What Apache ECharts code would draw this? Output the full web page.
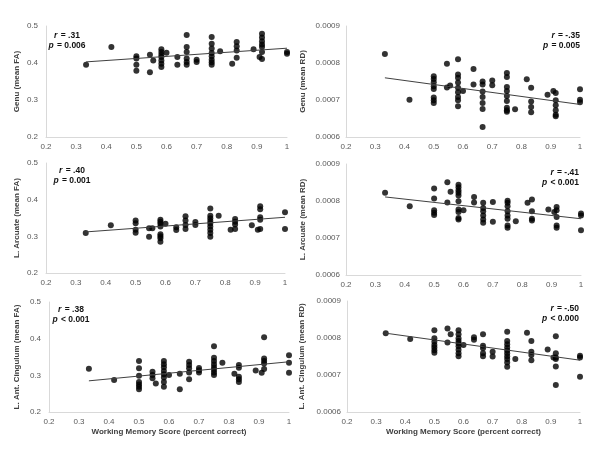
<!DOCTYPE html>
<html><head><meta charset="utf-8">
<script src="https://cdn.jsdelivr.net/npm/echarts@6/dist/echarts.min.js"></script>
<style>html,body{margin:0;padding:0;background:#fff}#c{width:600px;height:457px}</style>
</head><body><div id="c"></div>
<script>
// ---- Data ----
const xTicks = [0.2,0.3,0.4,0.5,0.6,0.7,0.8,0.9,1];
const faTicks = [0.2,0.3,0.4,0.5];
const rdTicks = [0.0006,0.0007,0.0008,0.0009];
const yNames = ['Genu (mean FA)','Genu (mean RD)','L. Arcuate (mean FA)','L. Arcuate (mean RD)','L. Ant. Cingulum (mean FA)','L. Ant. Cingulum (mean RD)'];
const xName = 'Working Memory Score (percent correct)';
const rLabels = ['.31','-.35','.40','-.41','.38','-.50'];
const pLabels = ['= 0.006','= 0.005','= 0.001','< 0.001','< 0.001','< 0.000'];

// Panel 1: Genu FA
const genuFA_x = [0.333,0.417,0.5,0.5,0.5,0.5,0.545,0.545,0.556,0.583,0.583,0.583,0.583,0.583,0.583,0.583,0.6,0.636,0.636,0.667,0.667,0.667,0.667,0.667,0.667,0.7,0.7,0.75,0.75,0.75,0.75,0.75,0.75,0.75,0.75,0.778,0.818,0.833,0.833,0.833,0.833,0.889,0.909,0.917,0.917,0.917,0.917,0.917,0.917,0.917,1,1];
const genuFA_y = [0.395,0.443,0.418,0.412,0.395,0.379,0.422,0.375,0.407,0.437,0.430,0.422,0.416,0.407,0.398,0.389,0.428,0.416,0.395,0.476,0.443,0.430,0.412,0.403,0.395,0.409,0.403,0.470,0.452,0.439,0.427,0.418,0.409,0.402,0.395,0.432,0.398,0.457,0.445,0.434,0.414,0.437,0.416,0.479,0.469,0.459,0.450,0.443,0.430,0.411,0.430,0.425];
const genuFA_trend = [[0.333,0.403],[1,0.440]];

// Panel 2: Genu RD
const genuRD_x = [0.333,0.417,0.5,0.5,0.5,0.5,0.5,0.5,0.5,0.5,0.545,0.545,0.556,0.583,0.583,0.583,0.583,0.583,0.583,0.583,0.583,0.583,0.6,0.636,0.636,0.667,0.667,0.667,0.667,0.667,0.667,0.667,0.7,0.7,0.75,0.75,0.75,0.75,0.75,0.75,0.75,0.75,0.75,0.778,0.818,0.833,0.833,0.833,0.833,0.889,0.909,0.917,0.917,0.917,0.917,0.917,0.917,1,1,1];
const genuRD_y = [0.000824,0.000701,0.000764,0.000757,0.000748,0.000737,0.000730,0.000707,0.000699,0.000692,0.000798,0.000734,0.000739,0.000810,0.000769,0.000760,0.000747,0.000733,0.000721,0.000708,0.000699,0.000683,0.000724,0.000784,0.000742,0.000750,0.000742,0.000723,0.000708,0.000692,0.000676,0.000627,0.000753,0.000740,0.000773,0.000762,0.000735,0.000724,0.000711,0.000697,0.000679,0.000672,0.000668,0.000675,0.000756,0.000733,0.000696,0.000681,0.000667,0.000714,0.000724,0.000719,0.000699,0.000686,0.000672,0.000660,0.000656,0.000729,0.000701,0.000694];
const genuRD_trend = [[0.333,0.000760],[1,0.000688]];

// Panel 3: L. Arcuate FA
const arcFA_x = [0.333,0.417,0.5,0.5,0.5,0.5,0.545,0.545,0.556,0.583,0.583,0.583,0.583,0.583,0.583,0.583,0.583,0.6,0.636,0.636,0.667,0.667,0.667,0.667,0.7,0.7,0.75,0.75,0.75,0.75,0.75,0.75,0.75,0.75,0.75,0.778,0.818,0.833,0.833,0.833,0.833,0.889,0.909,0.917,0.917,0.917,0.917,0.917,1,1];
const arcFA_y = [0.309,0.330,0.343,0.336,0.318,0.310,0.322,0.299,0.322,0.345,0.340,0.334,0.327,0.306,0.300,0.295,0.285,0.334,0.325,0.317,0.355,0.343,0.331,0.320,0.339,0.331,0.376,0.356,0.349,0.342,0.335,0.327,0.318,0.309,0.299,0.356,0.318,0.347,0.340,0.332,0.320,0.330,0.318,0.382,0.374,0.352,0.345,0.320,0.366,0.320];
const arcFA_trend = [[0.333,0.312],[1,0.352]];

// Panel 4: L. Arcuate RD
const arcRD_x = [0.333,0.417,0.5,0.5,0.5,0.5,0.5,0.545,0.545,0.556,0.583,0.583,0.583,0.583,0.583,0.583,0.583,0.583,0.583,0.583,0.6,0.636,0.636,0.667,0.667,0.667,0.667,0.667,0.667,0.7,0.7,0.75,0.75,0.75,0.75,0.75,0.75,0.75,0.75,0.778,0.818,0.833,0.833,0.833,0.833,0.889,0.909,0.917,0.917,0.917,0.917,0.917,1,1,1];
const arcRD_y = [0.000822,0.000786,0.000834,0.000807,0.000775,0.000768,0.000762,0.000851,0.000796,0.000825,0.000844,0.000837,0.000829,0.000822,0.000815,0.000799,0.000777,0.000770,0.000754,0.000750,0.000775,0.000811,0.000796,0.000795,0.000781,0.000772,0.000761,0.000750,0.000741,0.000797,0.000744,0.000801,0.000795,0.000786,0.000772,0.000761,0.000752,0.000734,0.000728,0.000745,0.000795,0.000804,0.000772,0.000752,0.000747,0.000777,0.000770,0.000784,0.000775,0.000757,0.000734,0.000728,0.000766,0.000761,0.000721];
const arcRD_trend = [[0.333,0.000811],[1,0.000752]];

// Panel 5: L. Ant. Cingulum FA
const cinFA_x = [0.333,0.417,0.5,0.5,0.5,0.5,0.5,0.5,0.5,0.545,0.545,0.545,0.556,0.583,0.583,0.583,0.583,0.583,0.583,0.583,0.583,0.6,0.636,0.636,0.667,0.667,0.667,0.667,0.667,0.7,0.7,0.7,0.75,0.75,0.75,0.75,0.75,0.75,0.75,0.75,0.778,0.818,0.833,0.833,0.833,0.833,0.833,0.889,0.909,0.917,0.917,0.917,0.917,0.917,1,1,1];
const cinFA_y = [0.318,0.287,0.339,0.319,0.299,0.282,0.275,0.269,0.262,0.310,0.301,0.292,0.278,0.339,0.330,0.322,0.312,0.303,0.294,0.282,0.269,0.301,0.304,0.262,0.337,0.328,0.319,0.308,0.289,0.320,0.314,0.308,0.379,0.348,0.339,0.330,0.322,0.315,0.308,0.301,0.334,0.304,0.328,0.321,0.296,0.289,0.282,0.313,0.307,0.404,0.346,0.339,0.332,0.317,0.355,0.334,0.307];
const cinFA_trend = [[0.333,0.285],[1,0.337]];

// Panel 6: L. Ant. Cingulum RD
const cinRD_x = [0.333,0.417,0.5,0.5,0.5,0.5,0.5,0.5,0.5,0.545,0.545,0.556,0.583,0.583,0.583,0.583,0.583,0.583,0.583,0.583,0.583,0.6,0.636,0.636,0.667,0.667,0.667,0.667,0.667,0.7,0.7,0.75,0.75,0.75,0.75,0.75,0.75,0.75,0.75,0.75,0.75,0.778,0.818,0.833,0.833,0.833,0.833,0.889,0.909,0.917,0.917,0.917,0.917,0.917,0.917,1,1,1];
const cinRD_y = [0.000813,0.000797,0.000821,0.000799,0.000790,0.000781,0.000774,0.000767,0.000760,0.000826,0.000788,0.000810,0.000821,0.000810,0.000799,0.000792,0.000785,0.000778,0.000768,0.000759,0.000751,0.000781,0.000802,0.000795,0.000810,0.000779,0.000772,0.000759,0.000751,0.000763,0.000750,0.000817,0.000792,0.000783,0.000774,0.000766,0.000759,0.000751,0.000743,0.000734,0.000722,0.000743,0.000814,0.000792,0.000763,0.000754,0.000740,0.000769,0.000747,0.000805,0.000759,0.000747,0.000743,0.000723,0.000673,0.000752,0.000747,0.000695];
const cinRD_trend = [[0.333,0.000813],[1,0.000740]];

const panelX = [genuFA_x, genuRD_x, arcFA_x, arcRD_x, cinFA_x, cinRD_x];
const panelY = [genuFA_y, genuRD_y, arcFA_y, arcRD_y, cinFA_y, cinRD_y];
const panelTrend = [genuFA_trend, genuRD_trend, arcFA_trend, arcRD_trend, cinFA_trend, cinRD_trend];

// ---- Layout / style ----
const FONT = '"Liberation Sans", Arial, sans-serif';
const grids = [
  {left:46, top:26, width:241, height:111},
  {left:346, top:26, width:234, height:111},
  {left:46, top:163, width:239, height:110},
  {left:346, top:164, width:235, height:111},
  {left:49, top:302, width:240, height:110},
  {left:347, top:301, width:233, height:111}
];
const nameGaps = [25, 39, 25, 39, 28, 41];
const annot = [
  {x:67, y:31, align:'center'},
  {x:580, y:31, align:'right'},
  {x:72, y:166, align:'center'},
  {x:579, y:168, align:'right'},
  {x:71, y:305, align:'center'},
  {x:579, y:304, align:'right'}
];

const xAxes = [], yAxes = [], series = [], graphics = [];
for (let i = 0; i < 6; i++) {
  const isRD = i % 2 === 1;
  const yt = isRD ? rdTicks : faTicks;
  const bottom = i >= 4;
  xAxes.push({
    type:'value', gridIndex:i, min:xTicks[0], max:xTicks[xTicks.length-1], interval:0.1,
    axisLine:{show:true, lineStyle:{color:'#d9d9d9', width:1}},
    axisTick:{show:false}, splitLine:{show:false},
    axisLabel:{color:'#595959', fontSize:8, fontFamily:FONT, margin:6,
      formatter:v => String(Math.round(v*10)/10)},
    name: bottom ? xName : '', nameLocation:'middle', nameGap:16,
    nameTextStyle:{color:'#404040', fontSize:8, fontWeight:'bold', fontFamily:FONT}
  });
  yAxes.push({
    type:'value', gridIndex:i, min:yt[0], max:yt[yt.length-1], interval: isRD ? 0.0001 : 0.1,
    axisLine:{show:true, lineStyle:{color:'#d9d9d9', width:1}},
    axisTick:{show:false}, splitLine:{show:false},
    axisLabel:{color:'#595959', fontSize:8, fontFamily:FONT, margin:isRD ? 6 : 8,
      formatter:v => isRD ? v.toFixed(4) : v.toFixed(1)},
    name: yNames[i], nameLocation:'middle', nameGap:nameGaps[i], nameRotate:90,
    nameTextStyle:{color:'#404040', fontSize:8, fontWeight:'bold', fontFamily:FONT}
  });
  series.push({
    type:'scatter', xAxisIndex:i, yAxisIndex:i, symbol:'circle', symbolSize:6,
    itemStyle:{color:'#000'}, silent:true,
    data: panelX[i].map((x, k) => [x, panelY[i][k]])
  });
  series.push({
    type:'line', xAxisIndex:i, yAxisIndex:i, symbol:'none', silent:true,
    lineStyle:{color:'#404040', width:1}, data: panelTrend[i]
  });
  const a = annot[i];
  graphics.push({
    type:'text', x: a.x, y: a.y,
    style:{
      text:'{i|r} {b|= ' + rLabels[i] + '}\n{i|p} {b|' + pLabels[i] + '}',
      align:a.align, verticalAlign:'top', lineHeight:9.5,
      rich:{
        i:{fontStyle:'italic', fontWeight:'bold', fontSize:8.5, fontFamily:FONT, fill:'#111', lineHeight:9.5},
        b:{fontWeight:'bold', fontSize:8.5, fontFamily:FONT, fill:'#111', lineHeight:9.5}
      }
    }
  });
}

const chart = echarts.init(document.getElementById('c'), null, {renderer:'canvas'});
chart.setOption({
  animation:false,
  backgroundColor:'#fff',
  grid: grids,
  xAxis: xAxes,
  yAxis: yAxes,
  series: series,
  graphic: graphics
});
</script>
</body></html>
